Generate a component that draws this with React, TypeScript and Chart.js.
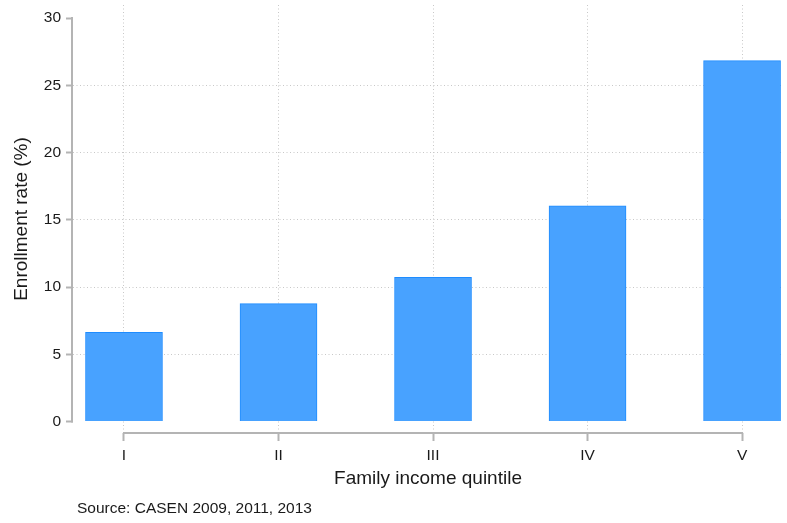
import React, { useEffect, useRef } from "react";
import { Chart, registerables } from "chart.js";

Chart.register(...registerables);

const categories = ["I", "II", "III", "IV", "V"];
const categoryPositions = [1, 2, 3, 4, 5];
const enrollmentRate = [6.63, 8.76, 10.72, 16.03, 26.83];
const yTicks = [0, 5, 10, 15, 20, 25, 30];
const yTitle = "Enrollment rate (%)";
const xTitle = "Family income quintile";
const sourceNote = "Source: CASEN 2009, 2011, 2013";

const FONT = "Arial, 'Liberation Sans', Helvetica, sans-serif";
const AXIS_GRAY = "#b4b4b4";
const GRID_GRAY = "#c8c8c8";
const TEXT = "#1a1a1a";

export default function App() {
  const canvasRef = useRef<HTMLCanvasElement | null>(null);

  useEffect(() => {
    document.body.style.margin = "0";
    const canvas = canvasRef.current;
    if (!canvas) return;

    const axisPlugin = {
      id: "stataAxes",
      afterDraw(chart: any) {
        const { ctx, scales } = chart;
        const xs = scales.x;
        const ys = scales.y;
        ctx.save();
        ctx.strokeStyle = AXIS_GRAY;
        ctx.lineWidth = 2;
        ctx.setLineDash([]);
        const yTop = ys.getPixelForValue(yTicks[yTicks.length - 1]);
        const yBot = ys.getPixelForValue(yTicks[0]);
        ctx.beginPath();
        ctx.moveTo(chart.chartArea.left - 1, yTop - 1);
        ctx.lineTo(chart.chartArea.left - 1, yBot + 1);
        ctx.stroke();
        const xL = xs.getPixelForValue(categoryPositions[0]);
        const xR = xs.getPixelForValue(categoryPositions[categoryPositions.length - 1]);
        ctx.beginPath();
        ctx.moveTo(xL - 1, chart.chartArea.bottom);
        ctx.lineTo(xR + 1, chart.chartArea.bottom);
        ctx.stroke();
        ctx.fillStyle = TEXT;
        ctx.font = `15.5px ${FONT}`;
        ctx.textAlign = "left";
        ctx.textBaseline = "middle";
        ctx.fillText(sourceNote, 77, 509);
        ctx.restore();
      },
    };

    const chart = new Chart(canvas, {
      type: "bar",
      data: {
        datasets: [
          {
            data: categoryPositions.map((x, i) => ({ x, y: enrollmentRate[i] })),
            backgroundColor: "#48a2ff",
            borderColor: "#1e8cff",
            borderWidth: 1,
            barThickness: 77,
          },
        ],
      },
      options: {
        animation: false,
        responsive: false,
        maintainAspectRatio: false,
        layout: { padding: { left: 0, right: 4, top: 5, bottom: 33 } },
        plugins: {
          legend: { display: false },
          tooltip: { enabled: false },
        },
        scales: {
          x: {
            type: "linear",
            min: 0.67,
            max: 5.265,
            offset: false,
            afterBuildTicks: (scale: any) => {
              scale.ticks = categoryPositions.map((v) => ({ value: v }));
            },
            afterFit: (scale: any) => {
              scale.height = 57;
              scale.paddingLeft = 0;
              scale.paddingRight = 0;
            },
            ticks: {
              autoSkip: false,
              maxRotation: 0,
              padding: 5,
              color: TEXT,
              font: { family: FONT, size: 15.5 },
              callback: (v: any) => {
                const idx = categoryPositions.indexOf(Number(v));
                return idx >= 0 ? categories[idx] : "";
              },
            },
            grid: {
              offset: false,
              color: GRID_GRAY,
              lineWidth: 1,
              drawTicks: true,
              tickLength: 8,
              tickColor: AXIS_GRAY,
              tickWidth: 2,
              tickBorderDash: [],
            },
            border: { display: false, dash: [1, 2.5] },
            title: {
              display: true,
              text: xTitle,
              color: TEXT,
              font: { family: FONT, size: 19 },
              padding: { top: 0, bottom: 0 },
            },
          },
          y: {
            type: "linear",
            min: -0.855,
            max: 30.967,
            afterBuildTicks: (scale: any) => {
              scale.ticks = yTicks.map((v) => ({ value: v }));
            },
            afterFit: (scale: any) => {
              scale.width = 73;
              scale.paddingTop = 0;
              scale.paddingBottom = 0;
            },
            ticks: {
              padding: 5,
              color: TEXT,
              font: { family: FONT, size: 15.5 },
            },
            grid: {
              color: (c: any) => {
                const v = c.tick ? c.tick.value : null;
                return v === 0 || v === 30 ? "rgba(0,0,0,0)" : GRID_GRAY;
              },
              lineWidth: 1,
              drawTicks: true,
              tickLength: 7,
              tickColor: AXIS_GRAY,
              tickWidth: 2,
              tickBorderDash: [],
            },
            border: { display: false, dash: [1, 2.5] },
            title: {
              display: true,
              text: yTitle,
              color: TEXT,
              font: { family: FONT, size: 19 },
              padding: { top: 10, bottom: 0 },
            },
          },
        },
      },
      plugins: [axisPlugin],
    });

    return () => chart.destroy();
  }, []);

  return (
    <div style={{ width: 787, height: 523 }}>
      <canvas ref={canvasRef} width={787} height={523} style={{ display: "block" }} />
    </div>
  );
}
